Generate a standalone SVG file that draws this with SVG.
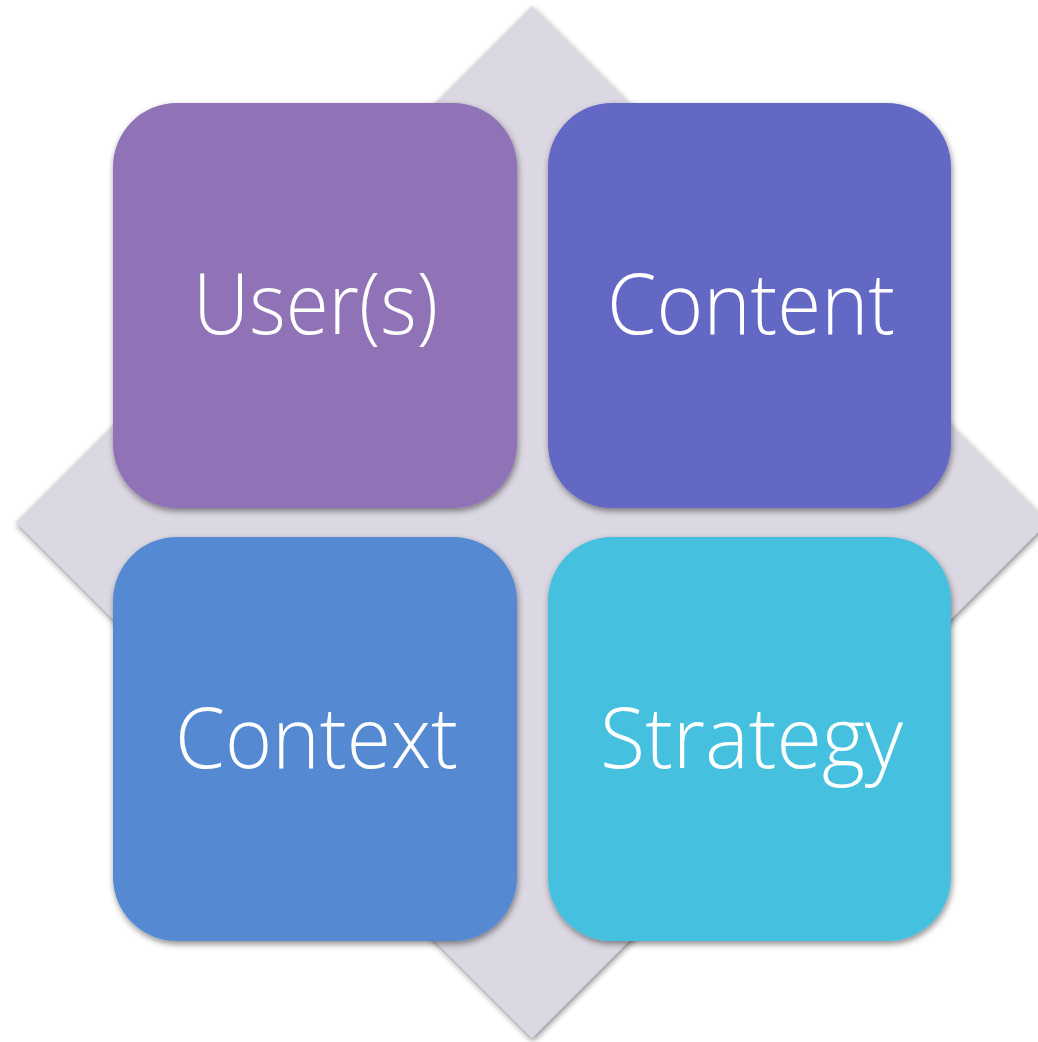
<svg xmlns="http://www.w3.org/2000/svg" width="1038" height="1042" viewBox="0 0 1038 1042">
<defs>
<filter id="sh" x="-10%" y="-10%" width="120%" height="120%">
<feDropShadow dx="1" dy="3" stdDeviation="3" flood-color="#000" flood-opacity="0.45"/>
</filter>
<style>
.box{filter:url(#sh)}
.lbl{font-family:"Open Sans","Liberation Sans",Arial,sans-serif;font-weight:300;font-size:85px;fill:#fff;text-anchor:middle}
</style>
</defs>
<rect width="1038" height="1042" fill="#fff"/>
<g id="diamond">
<polygon points="532,6 1048,522 532,1038 16,522" fill="#DCD8E3" filter="url(#sh)"/>
</g>
<g id="users">
<rect class="box" x="113" y="103" width="404" height="405" rx="64" fill="#9073B6"/>
<text class="lbl" x="315.5" y="334" textLength="245" lengthAdjust="spacingAndGlyphs">User(s)</text>
</g>
<g id="content">
<rect class="box" x="548" y="103" width="403" height="405" rx="64" fill="#6468C4"/>
<text class="lbl" x="751" y="334" textLength="288" lengthAdjust="spacingAndGlyphs">Content</text>
</g>
<g id="context">
<rect class="box" x="113" y="537" width="404" height="404" rx="64" fill="#548AD3"/>
<text class="lbl" x="316.5" y="768" textLength="283" lengthAdjust="spacingAndGlyphs">Context</text>
</g>
<g id="strategy">
<rect class="box" x="548" y="537" width="403" height="404" rx="64" fill="#44C1DF"/>
<text class="lbl" x="751.5" y="768" textLength="303" lengthAdjust="spacingAndGlyphs">Strategy</text>
</g>
<g id="connectors"></g>
</svg>
